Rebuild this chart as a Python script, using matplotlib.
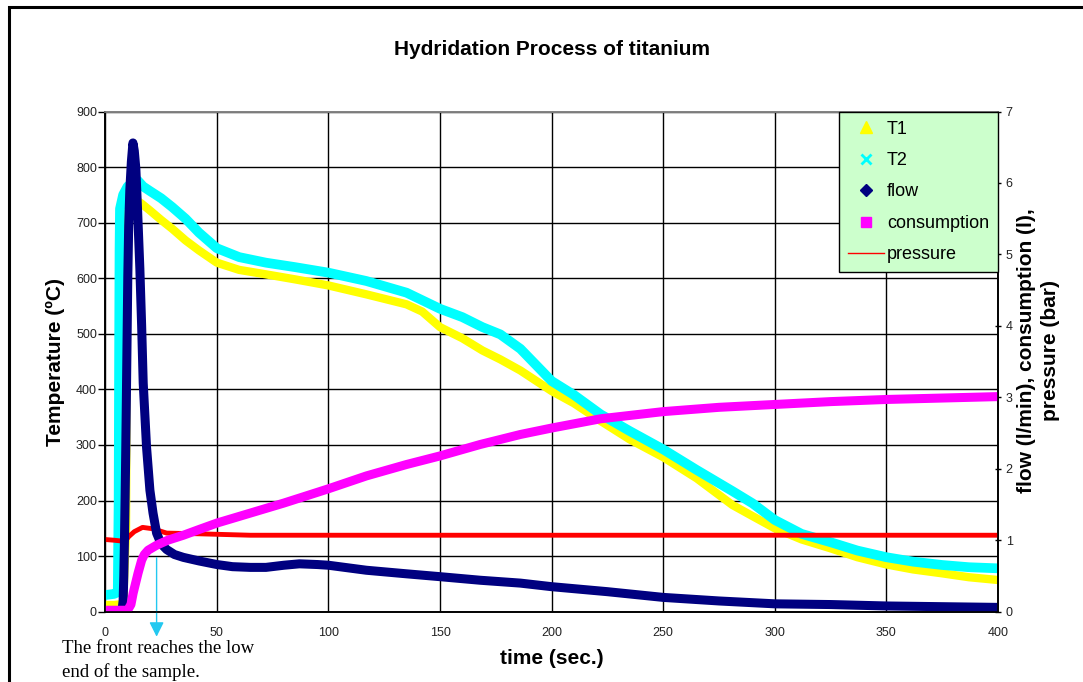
import matplotlib
matplotlib.use('Agg')
from matplotlib import pyplot as plt
from matplotlib.lines import Line2D
from matplotlib.patches import Rectangle

# values
t1_time = [0, 4, 8, 9.3, 9.5, 9.7, 10.5, 12, 14, 16, 20, 25, 30, 36, 42, 50, 60, 72, 85,
           100, 117, 135, 142, 150, 160, 169, 177, 186, 200, 210, 222, 235, 250, 265,
           281, 290, 300, 312, 325, 337, 350, 362, 375, 387, 400]
t1_temp = [12, 12, 14, 150, 400, 650, 725, 737, 740, 735, 722, 705, 689, 668, 650, 628,
           615, 607, 598, 587, 571, 553, 540, 512, 492, 470, 454, 434, 397, 375, 343, 310,
           278, 240, 192, 172, 150, 130, 114, 98, 85, 76, 69, 62, 57]

t2_time = [0, 4, 5.6, 6, 6.2, 6.4, 6.6, 8, 10, 12.5, 14.5, 17, 20, 25, 30, 36, 42, 50,
           60, 72, 85, 100, 117, 135, 150, 160, 169, 177, 186, 200, 210, 222, 235, 250,
           265, 281, 290, 300, 312, 325, 337, 350, 362, 375, 387, 400]
t2_temp = [30, 32, 35, 200, 450, 650, 725, 750, 765, 773, 776, 765, 757, 744, 728, 707,
           682, 654, 638, 628, 620, 610, 595, 574, 545, 530, 512, 499, 473, 415, 390, 355,
           325, 292, 255, 217, 195, 165, 140, 125, 110, 98, 90, 84, 80, 78]

flow_time = [0, 5, 7.5, 8, 8.3, 8.6, 8.9, 9.2, 9.5, 9.8, 10.1, 10.5, 11, 11.7, 12.4, 13,
             13.7, 14.5, 15.5, 16.3, 17, 18.5, 20, 21.4, 23, 25, 27.5, 31, 35, 42, 50,
             57, 65, 72, 80, 87, 95, 100, 117, 135, 150, 168, 186, 200, 225, 250, 275,
             300, 325, 350, 375, 400]
flow_val = [0, 0, 0.02, 0.15, 0.5, 1.0, 1.6, 2.3, 3.1, 3.9, 4.7, 5.4, 5.9, 6.3, 6.56,
            6.45, 6.2, 5.6, 4.8, 4.0, 3.2, 2.3, 1.7, 1.38, 1.1, 0.95, 0.87, 0.8, 0.76,
            0.71, 0.66, 0.63, 0.62, 0.62, 0.65, 0.67, 0.66, 0.65, 0.58, 0.53, 0.49, 0.44,
            0.40, 0.35, 0.28, 0.20, 0.15, 0.11, 0.10, 0.08, 0.07, 0.06]

cons_time = [0, 10, 11.5, 12.5, 13.6, 14.7, 16.3, 17.5, 19.2, 23, 28, 35, 42, 50, 65, 80,
             90, 100, 117, 135, 150, 168, 186, 200, 222, 250, 275, 300, 325, 350, 375, 400]
cons_val = [0.02, 0.02, 0.1, 0.26, 0.4, 0.54, 0.72, 0.8, 0.86, 0.93, 1.0, 1.07, 1.15,
            1.24, 1.38, 1.52, 1.62, 1.72, 1.9, 2.06, 2.18, 2.34, 2.48, 2.57, 2.7, 2.8,
            2.86, 2.9, 2.94, 2.97, 2.99, 3.01]

pres_time = [0, 4, 7, 8.5, 10.5, 13, 16.7, 21.4, 27.5, 42, 65, 100, 150, 200, 250, 300,
             350, 400]
pres_val = [1.01, 1.0, 0.99, 0.97, 1.05, 1.12, 1.18, 1.16, 1.1, 1.09, 1.07, 1.07, 1.07,
            1.07, 1.07, 1.07, 1.07, 1.07]

x_ticks = [0, 50, 100, 150, 200, 250, 300, 350, 400]
temp_ticks = [0, 100, 200, 300, 400, 500, 600, 700, 800, 900]
right_ticks = [0, 1, 2, 3, 4, 5, 6, 7]

plt.rcParams['font.family'] = ['Liberation Sans', 'DejaVu Sans']

fig = plt.figure(figsize=(10.83, 6.82), dpi=100)
ax = fig.add_axes([0.0972, 0.1031, 0.8243, 0.7334])
ax2 = ax.twinx()

# frame around the whole picture
fig.patches.append(Rectangle((9 / 1083, -0.05), 1.1, 1.05 - 7 / 682, transform=fig.transFigure,
                             fill=False, edgecolor='black', linewidth=2.2))

line_kw = dict(solid_capstyle='round', solid_joinstyle='round')
ax.plot(t1_time, t1_temp, color='#FFFF00', lw=6.0, **line_kw)
ax.plot(t2_time, t2_temp, color='#00FFFF', lw=7.0, **line_kw)
ax2.plot(pres_time, pres_val, color='#FF0000', lw=3.5, **line_kw)
ax2.plot(flow_time, flow_val, color='#000080', lw=6.5, **line_kw)
ax2.plot(cons_time, cons_val, color='#FF00FF', lw=6.5, **line_kw)

ax.set_xlim(0, 400)
ax.set_ylim(0, 900)
ax2.set_ylim(0, 7)
ax.set_xticks(x_ticks)
ax.set_yticks(temp_ticks)
ax2.set_yticks(right_ticks)
ax.grid(True, color='black', lw=1.0)
ax.set_axisbelow(True)

for sp in ['left', 'bottom']:
    ax.spines[sp].set_color('black')
ax.spines['top'].set_color('#808080')
ax2.spines['top'].set_color('#808080')
ax2.spines['right'].set_color('black')
for a in (ax, ax2):
    for sp in a.spines.values():
        sp.set_linewidth(1.2)

ax.tick_params(axis='x', length=0, pad=11, labelsize=9, labelcolor='#222222')
ax.tick_params(axis='y', length=5, width=1, pad=1, labelsize=9, labelcolor='#222222')
ax2.tick_params(axis='y', direction='inout', length=5, width=1, pad=3, labelsize=9,
                labelcolor='#222222')

ax.set_title('Hydridation Process of titanium', fontsize=15, fontweight='bold', pad=41)
ax.set_xlabel('time (sec.)', fontsize=15, fontweight='bold', labelpad=7.5)
ax.set_ylabel('Temperature (ºC)', fontsize=15, fontweight='bold', labelpad=8)
ax2.set_ylabel('flow (l/min), consumption (l),\npressure (bar)', fontsize=15,
               fontweight='bold', rotation=90, linespacing=1.35)
ax2.yaxis.set_label_coords(1.021, 0.522)

handles = [
    Line2D([], [], ls='none', marker='^', color='#FFFF00', ms=8),
    Line2D([], [], ls='none', marker='x', color='#00FFFF', ms=7, mew=2),
    Line2D([], [], ls='none', marker='D', color='#000080', ms=6),
    Line2D([], [], ls='none', marker='s', color='#FF00FF', ms=7),
    Line2D([], [], color='#FF0000', lw=1),
]
labels = ['T1', 'T2', 'flow', 'consumption', 'pressure']
leg = ax2.legend(handles, labels, loc='upper right', bbox_to_anchor=(1.0, 1.0),
                 borderaxespad=0, fontsize=13, frameon=True, fancybox=False,
                 facecolor='#CCFFCC', edgecolor='black', framealpha=1,
                 labelspacing=0.8, handlelength=2.0, handletextpad=0.15,
                 borderpad=0.5)
leg.get_frame().set_linewidth(1.0)

# arrow marking when the front reaches the low end
ax.annotate('', xy=(23, -0.05), xycoords=('data', 'axes fraction'),
            xytext=(23, 97), textcoords='data',
            arrowprops=dict(arrowstyle='-|>', color='#22C8F0', lw=1.0,
                            mutation_scale=22, shrinkA=0, shrinkB=0),
            annotation_clip=False)
fig.text(62 / 1083, 1 - 640 / 682, 'The front reaches the low\nend of the sample.',
         family=['Liberation Serif', 'DejaVu Serif'], fontsize=13.5, va='top',
         ha='left', linespacing=1.42)

fig.savefig('out.png', dpi=100)
